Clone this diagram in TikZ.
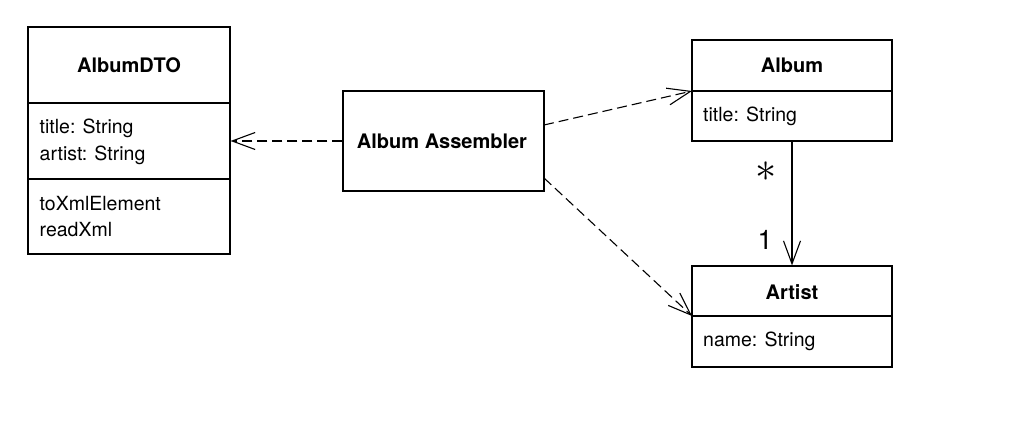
\documentclass[tikz,border=0pt]{standalone}
\usepackage{fontspec}
\setmainfont{TeX Gyre Heros}
\usetikzlibrary{arrows.meta}
\tikzset{
  box/.style={draw, line width=1.1pt, inner sep=0pt, fill=white},
  ttl/.style={font=\fontsize{20}{23}\selectfont\bfseries, inner sep=0pt},
  attr/.style={font=\fontsize{19.5}{23}\selectfont, inner sep=0pt, anchor=west},
  divider/.style={line width=1.1pt},
  dep/.style={line width=1.1pt, dash pattern=on 10pt off 5pt, -{Straight Barb[length=23pt,width=17pt,line width=1.1pt]}},
  assoc/.style={line width=1.1pt, -{Straight Barb[length=23pt,width=17pt,line width=1.1pt]}},
  mult/.style={inner sep=0pt}
}
\begin{document}
\begin{tikzpicture}[x=1pt,y=-1pt]
\useasboundingbox (0,0) rectangle (1036,427);
% AlbumDTO
\node[box, minimum width=202pt, minimum height=227pt] (dto) at (129,140.5) {};
\coordinate (dtoD1w) at (28,103); \coordinate (dtoD1e) at (230,103);
\coordinate (dtoD2w) at (28,179); \coordinate (dtoD2e) at (230,179);
\draw[divider] (dtoD1w) -- (dtoD1e);
\draw[divider] (dtoD2w) -- (dtoD2e);
\node[ttl] (dtoT) at (129,65) {AlbumDTO};
\node[attr] (dtoA1) at (39.5,128) {title: String};
\node[attr] (dtoA2) at (39.5,155) {artist: String};
\node[attr] (dtoM1) at (39.5,204) {toXmlElement};
\node[attr] (dtoM2) at (39.5,230) {readXml};
% Album Assembler
\node[box, minimum width=201pt, minimum height=100pt] (asm) at (443.5,141) {};
\node[ttl] (asmT) at (442,141) {Album Assembler};
% Album
\node[box, minimum width=200pt, minimum height=101pt] (album) at (792,90.5) {};
\coordinate (albD1w) at (692,91); \coordinate (albD1e) at (892,91);
\draw[divider] (albD1w) -- (albD1e);
\node[ttl] (albumT) at (792,65.5) {Album};
\node[attr] (albumA1) at (703,116) {title: String};
% Artist
\node[box, minimum width=200pt, minimum height=101pt] (artist) at (792,316.5) {};
\coordinate (artD1w) at (692,316); \coordinate (artD1e) at (892,316);
\draw[divider] (artD1w) -- (artD1e);
\node[ttl] (artistT) at (792,292) {Artist};
\node[attr] (artistA1) at (703,341.5) {name: String};
% connectors
\coordinate (asmR1) at (544,125);
\coordinate (asmR2) at (544,178);
\draw[dep] (asm.west) -- (dto.east |- asm.west);
\draw[dep] (asmR1) -- (albD1w);
\draw[dep] (asmR2) -- (artD1w);
\draw[assoc] (album.south) -- (artist.north);
\node[mult, font=\fontsize{24.88}{26}\selectfont] (mstar) at (766,172) {\scalebox{1.7}{$\ast$}};
\node[mult, font=\fontsize{27}{30}\selectfont] (mone) at (765,240) {1};
\end{tikzpicture}
\end{document}
